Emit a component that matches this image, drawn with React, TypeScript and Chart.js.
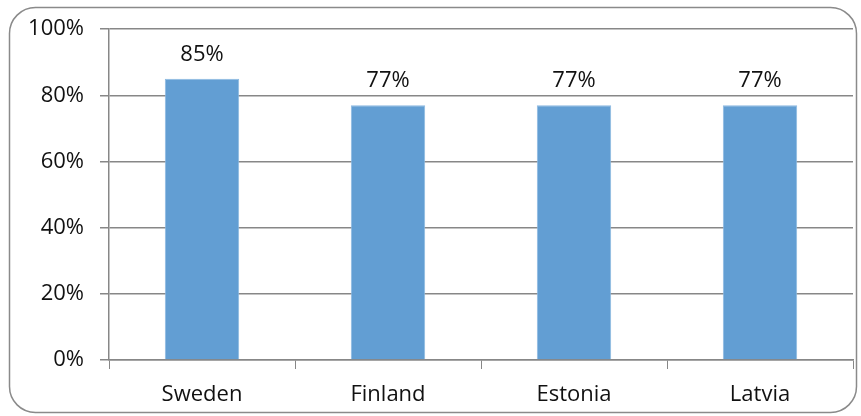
import React, { useEffect, useRef } from "react";
import { Chart, registerables } from "chart.js";

Chart.register(...registerables);

const categories = ["Sweden", "Finland", "Estonia", "Latvia"];
const values = [85, 77, 77, 77];
const yTicks = [0, 20, 40, 60, 80, 100];

const FONT = "'Open Sans', 'Noto Sans', sans-serif";
const GRID = "#878787";
const FS = 22;

const borderPlugin = {
  id: "frame",
  beforeDraw(chart: any) {
    const ctx = chart.ctx;
    ctx.save();
    ctx.fillStyle = "#ffffff";
    ctx.fillRect(0, 0, chart.width, chart.height);
    ctx.strokeStyle = "#8a8a8a";
    ctx.lineWidth = 1.5;
    ctx.beginPath();
    (ctx as any).roundRect(9.5, 7.5, 847, 405, 26);
    ctx.stroke();
    ctx.restore();
  },
};

const labelPlugin = {
  id: "barLabels",
  afterDatasetsDraw(chart: any) {
    const ctx = chart.ctx;
    const meta = chart.getDatasetMeta(0);
    ctx.save();
    ctx.font = `${FS}px ${FONT}`;
    ctx.fillStyle = "#111111";
    ctx.textAlign = "center";
    ctx.textBaseline = "alphabetic";
    meta.data.forEach((bar: any, i: number) => {
      ctx.fillText(`${values[i]}%`, bar.x, bar.y - 18);
    });
    ctx.restore();
  },
};

export default function App() {
  const ref = useRef<HTMLCanvasElement>(null);
  useEffect(() => {
    document.body.style.margin = "0";
    const chart = new Chart(ref.current as HTMLCanvasElement, {
      type: "bar",
      data: {
        labels: categories,
        datasets: [
          {
            data: values,
            backgroundColor: "rgb(98,158,211)",
            borderColor: "rgb(140,185,225)",
            borderWidth: 1,
            barPercentage: 0.4,
            categoryPercentage: 1,
          },
        ],
      },
      options: {
        animation: false,
        responsive: false,
        maintainAspectRatio: false,
        layout: { padding: { top: 28, right: 8, left: 0, bottom: 0 } },
        plugins: { legend: { display: false }, tooltip: { enabled: false } },
        scales: {
          x: {
            afterFit(scale: any) {
              scale.height = 56;
            },
            grid: {
              drawOnChartArea: false,
              drawTicks: true,
              tickLength: 9,
              color: GRID,
              offset: true,
            },
            border: { display: true, color: GRID, width: 1.5 },
            ticks: {
              color: "#111111",
              font: { family: FONT, size: FS },
              padding: 13,
            },
          },
          y: {
            min: 0,
            max: 100,
            afterFit(scale: any) {
              scale.width = 109;
            },
            afterBuildTicks(scale: any) {
              scale.ticks = yTicks.map((v) => ({ value: v }));
            },
            grid: { color: GRID, lineWidth: 1.5, tickLength: 9 },
            border: { display: true, color: GRID, width: 1.5 },
            ticks: {
              color: "#111111",
              font: { family: FONT, size: FS },
              padding: 16,
              callback: (v: any) => `${v}%`,
            },
          },
        },
      },
      plugins: [borderPlugin, labelPlugin],
    });
    return () => chart.destroy();
  }, []);
  return (
    <div style={{ width: 861, height: 416 }}>
      <canvas ref={ref} width={861} height={416} style={{ display: "block" }} />
    </div>
  );
}
